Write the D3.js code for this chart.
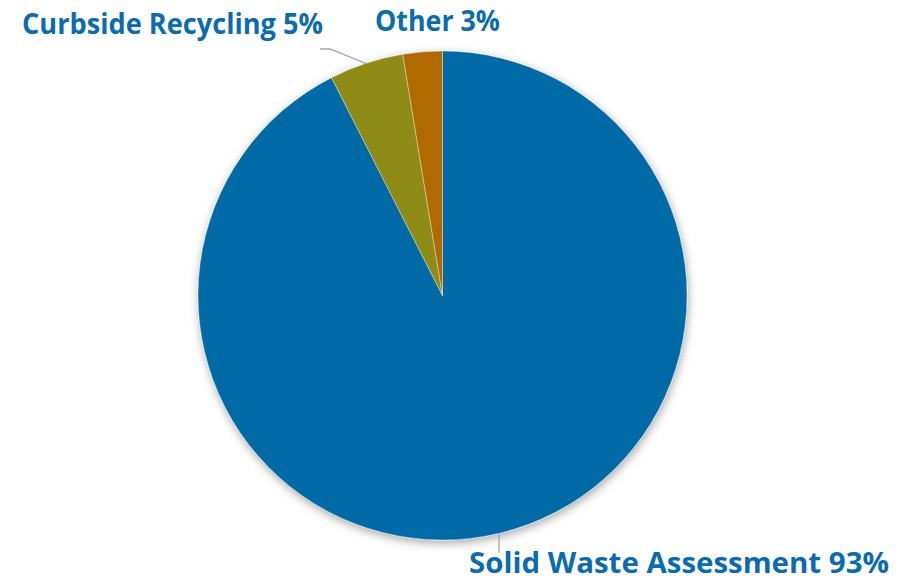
<!DOCTYPE html>
<html>
<head>
<meta charset="utf-8">
<script src="https://cdn.jsdelivr.net/npm/d3@7/dist/d3.min.js"></script>
<style>
  html, body { margin: 0; padding: 0; background: #ffffff; }
  svg { display: block; }
</style>
</head>
<body>
<svg id="chart" width="919" height="579"></svg>
<script>
// Revenue sources, share of total (%)
const categories = ["Solid Waste Assessment", "Curbside Recycling", "Other"];
const shares = [92.5, 4.9, 2.6];
const colors = ["#006AA7", "#8E8B16", "#B16B03"];

const width = 919, height = 579;
const cx = 442.5, cy = 295.5, radius = 244.5;

const svg = d3.select("#chart");

const defs = svg.append("defs");
const shadow = defs.append("filter")
  .attr("id", "pieShadow")
  .attr("x", "-20%").attr("y", "-20%")
  .attr("width", "140%").attr("height", "140%");
shadow.append("feDropShadow")
  .attr("dx", 1).attr("dy", 3)
  .attr("stdDeviation", 5)
  .attr("flood-color", "#000")
  .attr("flood-opacity", 0.35);

const data = categories.map((c, i) => ({ name: c, value: shares[i], color: colors[i] }));

const pie = d3.pie()
  .value(d => d.value)
  .sort(null)
  .startAngle(0)
  .endAngle(2 * Math.PI);

const arc = d3.arc().innerRadius(0).outerRadius(radius);

const g = svg.append("g").attr("transform", `translate(${cx},${cy})`);

g.append("g")
  .attr("filter", "url(#pieShadow)")
  .selectAll("path")
  .data(pie(data))
  .join("path")
  .attr("d", arc)
  .attr("fill", d => d.data.color)
  .attr("stroke", "rgba(255,255,255,0.45)")
  .attr("stroke-width", 0.8)
  .attr("stroke-linejoin", "round");

const arcs = pie(data);
const labelText = d => `${d.name} ${Math.round(d.value)}%`;

// Leader lines
const edge = (a, r) => [Math.sin(a) * r, -Math.cos(a) * r];

const leaders = svg.append("g")
  .attr("fill", "none")
  .attr("stroke", "#A6A6A6")
  .attr("stroke-width", 1.3);

// Curbside Recycling: from the slice rim out to the upper left
{
  const a = arcs[1];
  const mid = (a.startAngle + a.endAngle) / 2;
  const [x0, y0] = edge(mid, radius);
  const p = d3.path();
  p.moveTo(cx + x0, cy + y0 + 0.5);
  p.lineTo(330, 49);
  p.lineTo(320, 49);
  leaders.append("path").attr("d", p.toString());
}
// Solid Waste Assessment: a short drop from the bottom rim
{
  const ang = Math.PI - Math.asin((499 - cx) / radius);
  const [x0, y0] = edge(ang, radius);
  const p = d3.path();
  p.moveTo(cx + x0, cy + y0);
  p.lineTo(cx + x0, 553);
  leaders.append("path").attr("d", p.toString());
}

const labelPos = [
  { x: 469, y: 573, w: 420 },
  { x: 22, y: 34, w: 301 },
  { x: 375, y: 31, w: 125 }
];

svg.append("g")
  .selectAll("text")
  .data(data)
  .join("text")
  .attr("x", (d, i) => labelPos[i].x)
  .attr("y", (d, i) => labelPos[i].y)
  .attr("textLength", (d, i) => labelPos[i].w)
  .attr("lengthAdjust", "spacingAndGlyphs")
  .attr("font-family", "'Open Sans', Lato, sans-serif")
  .attr("font-weight", 700)
  .attr("font-size", 28)
  .attr("fill", "#0B6BAF")
  .text(labelText);
</script>
</body>
</html>
